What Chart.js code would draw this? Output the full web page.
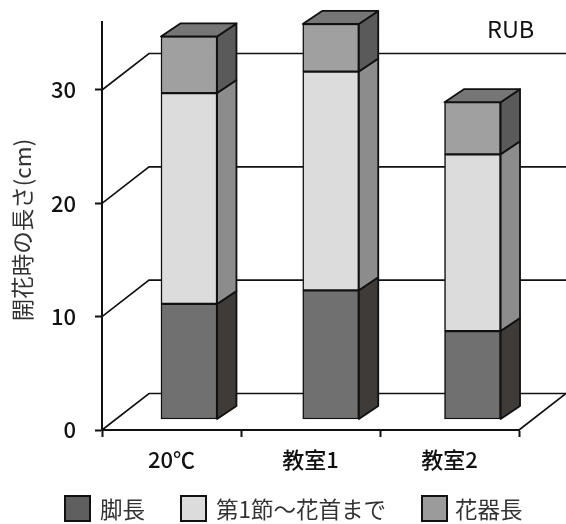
<!DOCTYPE html>
<html>
<head>
<meta charset="utf-8">
<title>RUB</title>
<script src="https://cdn.jsdelivr.net/npm/chart.js@4/dist/chart.umd.js"></script>
<style>
  html, body { margin: 0; padding: 0; background: #fff; }
  canvas { display: block; }
</style>
</head>
<body>
<canvas id="rubChart" width="566" height="524"></canvas>
<script>
const categories = ['20℃', '教室1', '教室2'];
const seriesNames = ['脚長', '第1節～花首まで', '花器長'];
const legLength = [10.2, 11.4, 7.8];
const firstNodeToNeck = [18.6, 19.3, 15.6];
const flowerLength = [5.0, 4.2, 4.6];
const yTicks = [0, 10, 20, 30];
const yTitle = '開花時の長さ(cm)';
const panelLabel = 'RUB';

const fontFamily = '"Noto Sans CJK JP", "Noto Sans", sans-serif';
const lineColor = '#111';
const frontColors = ['#707070', '#dcdcdc', '#a0a0a0'];
const sideColors = ['#3f3b38', '#8c8c8c', '#5a5a5a'];
const legendColors = ['#5f5f5f', '#dcdcdc', '#9b9b9b'];
const topColor = '#767676';

// 3D look: wall offset, bar depth, and where the bars sit inside the box
const wallDx = 47, wallDy = 36.5;
const barDx = 19, barDy = 13;
const barShiftY = -10.5, barScaleX = 1.02, barAnchorX = 310.5, barCenterX = 330.8;

function strokeLine(ctx, pts) {
  ctx.beginPath();
  pts.forEach((p, i) => i ? ctx.lineTo(p[0], p[1]) : ctx.moveTo(p[0], p[1]));
  ctx.stroke();
}

function face(ctx, pts, fill) {
  ctx.beginPath();
  pts.forEach((p, i) => i ? ctx.lineTo(p[0], p[1]) : ctx.moveTo(p[0], p[1]));
  ctx.closePath();
  ctx.fillStyle = fill;
  ctx.fill();
  ctx.stroke();
}

const box3d = {
  id: 'box3d',
  beforeDatasetsDraw(chart) {
    const { ctx, scales: { y }, chartArea, width } = chart;
    ctx.save();
    ctx.strokeStyle = lineColor;
    ctx.lineWidth = 1.6;
    yTicks.forEach(v => {
      const py = y.getPixelForValue(v);
      strokeLine(ctx, [[chartArea.left, py], [chartArea.left + wallDx, py - wallDy], [width, py - wallDy]]);
    });
    // right edge of the floor
    const py0 = y.getPixelForValue(0);
    strokeLine(ctx, [[chartArea.right, py0], [width, py0 - wallDy]]);
    ctx.restore();

    ctx.save();
    ctx.translate(barCenterX, barShiftY);
    ctx.scale(barScaleX, 1);
    ctx.translate(-barAnchorX, 0);
  },
  afterDatasetsDraw(chart) {
    const { ctx, data } = chart;
    ctx.strokeStyle = lineColor;
    ctx.lineWidth = 1.8;
    ctx.lineJoin = 'round';
    data.datasets.forEach((ds, i) => {
      chart.getDatasetMeta(i).data.forEach(bar => {
        const r = bar.x + bar.width / 2;
        const l = bar.x - bar.width / 2;
        face(ctx, [[r, bar.y], [r + barDx, bar.y - barDy], [r + barDx, bar.base - barDy], [r, bar.base]], sideColors[i]);
        if (i === data.datasets.length - 1) {
          face(ctx, [[l, bar.y], [l + barDx, bar.y - barDy], [r + barDx, bar.y - barDy], [r, bar.y]], topColor);
        }
      });
    });
    ctx.restore();
  },
  afterDraw(chart) {
    const { ctx } = chart;
    ctx.save();
    ctx.fillStyle = '#111';
    ctx.textBaseline = 'middle';
    ctx.textAlign = 'left';
    ctx.font = '23.5px ' + fontFamily;
    ctx.fillText(panelLabel, 487, 29);

    // y axis title
    ctx.save();
    ctx.translate(22, 230);
    ctx.rotate(-Math.PI / 2);
    ctx.textAlign = 'center';
    ctx.fillStyle = '#333';
    ctx.font = '22.5px ' + fontFamily;
    ctx.fillText(yTitle, 0, 0);
    ctx.restore();

    // legend
    const boxX = [65, 181, 422];
    const textX = [100, 216, 455];
    ctx.font = '22.5px ' + fontFamily;
    ctx.strokeStyle = lineColor;
    ctx.lineWidth = 2;
    seriesNames.forEach((name, i) => {
      ctx.fillStyle = legendColors[i];
      ctx.fillRect(boxX[i], 496, 25, 25);
      ctx.strokeRect(boxX[i], 496, 25, 25);
      ctx.fillStyle = '#333';
      ctx.fillText(name, textX[i], 509);
    });
    ctx.restore();
  }
};

new Chart(document.getElementById('rubChart'), {
  type: 'bar',
  plugins: [box3d],
  data: {
    labels: categories,
    datasets: [legLength, firstNodeToNeck, flowerLength].map((values, i) => ({
      label: seriesNames[i],
      data: values,
      backgroundColor: frontColors[i],
      borderColor: lineColor,
      borderWidth: 1.5,
      borderSkipped: false,
      clip: false,
      barThickness: 55
    }))
  },
  options: {
    responsive: false,
    animation: false,
    layout: { padding: { top: 22, right: 47, left: 0, bottom: 0 } },
    plugins: {
      legend: { display: false },
      tooltip: { enabled: false }
    },
    scales: {
      x: {
        stacked: true,
        afterFit(scale) { scale.height = 94; },
        border: { color: lineColor, width: 2 },
        grid: { drawOnChartArea: false, tickLength: 7, tickColor: lineColor, tickWidth: 2 },
        ticks: { color: '#111', padding: 9, maxRotation: 0, font: { family: fontFamily, size: 22, weight: '500' } }
      },
      y: {
        stacked: true,
        min: 0,
        max: 36,
        afterFit(scale) {
          scale.width = 102;
          scale.paddingTop = 0;
          scale.paddingBottom = 0;
        },
        afterBuildTicks(scale) { scale.ticks = yTicks.map(value => ({ value })); },
        border: { color: lineColor, width: 2 },
        grid: { drawOnChartArea: false, tickLength: 7, tickColor: lineColor, tickWidth: 2 },
        ticks: { color: '#111', padding: 19, font: { family: fontFamily, size: 22, weight: '500' } }
      }
    }
  }
});
</script>
</body>
</html>
